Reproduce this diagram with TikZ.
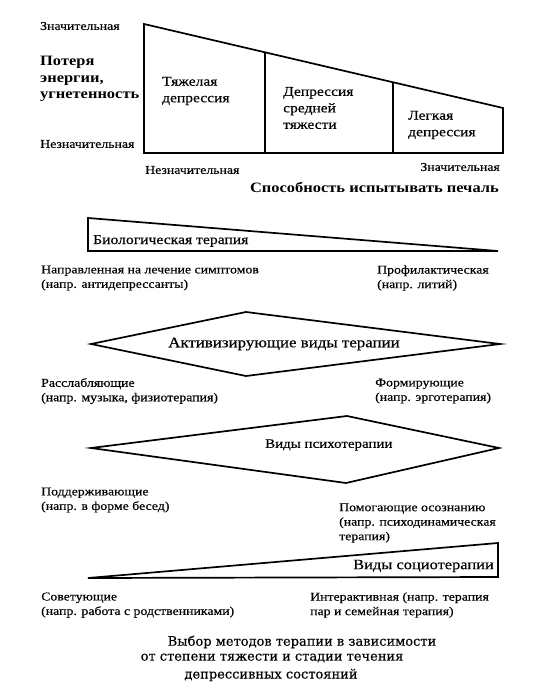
\documentclass[tikz,border=0pt]{standalone}
\usepackage{fontspec}
\setmainfont[FakeStretch=1.15,UprightFeatures={FakeBold=0.4}]{Liberation Serif}
\newfontfamily\capfont[FakeBold=0.3]{DejaVu Serif}
\usetikzlibrary{calc}
\tikzset{
  shp/.style={line width=1.7pt, line join=miter},
  lbl/.style={inner sep=0pt, anchor=west, align=left, font=\fontsize{12}{14.5}\selectfont},
  lblr/.style={lbl, anchor=east, align=right},
  inlbl/.style={inner sep=0pt, anchor=west, align=left, font=\fontsize{13.5}{16.5}\selectfont},
  boldlbl/.style={inner sep=0pt, anchor=west, align=left, font=\fontsize{14.3}{16.5}\selectfont\bfseries},
  caplbl/.style={inner sep=0pt, anchor=center, font=\capfont\fontsize{13}{16}\selectfont}
}
\begin{document}
\begin{tikzpicture}[x=1pt,y=-1pt]
\useasboundingbox (0,0) rectangle (552,690);
% ---------- top chart ----------
\coordinate (A) at (144,24);
\coordinate (B) at (144,153);
\coordinate (C) at (503,153);
\coordinate (D) at (503,108);
\draw[shp] (A) -- (B) -- (C) -- (D) -- cycle;
\coordinate (p1) at ($(A)!0.337!(D)$);
\coordinate (p2) at ($(A)!0.694!(D)$);
\draw[shp] (p1) -- (p1 |- B);
\draw[shp] (p2) -- (p2 |- B);
\node[lbl] (zn1) at (40,26) {Значительная};
\node[boldlbl] (loss) at (40,79) {Потеря\\энергии,\\угнетенность};
\node[lbl] (nzn1) at (40,144) {Незначительная};
\node[inlbl] (severe) at (162,91) {Тяжелая\\депрессия};
\node[inlbl] (medium) at (283,108) {Депрессия\\средней\\тяжести};
\node[inlbl] (light) at (408,125) {Легкая\\депрессия};
\node[lbl] (nzn2) at (145,170) {Незначительная};
\node[lblr] (zn2) at (500,167) {Значительная};
\node[boldlbl, anchor=east] (sad) at (499,187) {Способность испытывать печаль};
% ---------- biological therapy ----------
\coordinate (b1) at (88,218);
\coordinate (b2) at (498,251);
\coordinate (b3) at (88,251);
\draw[shp] (b1) -- (b2) -- (b3) -- cycle;
\node[lbl, font=\fontsize{13.6}{16}\selectfont] (bio) at (93,241) {Биологическая терапия};
\node[lbl] (bioL) at (41,278) {Направленная на лечение симптомов\\(напр. антидепрессанты)};
\node[lbl] (bioR) at (377,278) {Профилактическая\\(напр. литий)};
% ---------- activating therapy ----------
\coordinate (a1) at (246,312);
\coordinate (a2) at (500,344);
\coordinate (a3) at (246,376);
\coordinate (a4) at (91,344);
\draw[shp] (a1) -- (a2) -- (a3) -- (a4) -- cycle;
\node[inner sep=0pt, font=\fontsize{14.7}{16}\selectfont] (act) at (284,344) {Активизирующие виды терапии};
\node[lbl] (actL) at (41,391) {Расслабляющие\\(напр. музыка, физиотерапия)};
\node[lbl] (actR) at (375,391) {Формирующие\\(напр. эрготерапия)};
% ---------- psychotherapy ----------
\coordinate (s1) at (347,416);
\coordinate (s2) at (499,448);
\coordinate (s3) at (346,483);
\coordinate (s4) at (91,448);
\draw[shp] (s1) -- (s2) -- (s3) -- (s4) -- cycle;
\node[lbl, font=\fontsize{13}{16}\selectfont] (psy) at (265,445) {Виды психотерапии};
\node[lbl] (psyL) at (41,500) {Поддерживающие\\(напр. в форме бесед)};
\node[lbl] (psyR) at (339,523) {Помогающие осознанию\\(напр. психодинамическая\\терапия)};
% ---------- sociotherapy ----------
\coordinate (c1) at (88,578);
\coordinate (c2) at (498,543);
\coordinate (c3) at (498,577);
\draw[shp] (c1) -- (c2) -- (c3) -- cycle;
\node[lblr, font=\fontsize{14.3}{16}\selectfont] (soc) at (494,566) {Виды социотерапии};
\node[lbl] (socL) at (41,605) {Советующие\\(напр. работа с родственниками)};
\node[lbl] (socR) at (310,605) {Интерактивная (напр. терапия\\пар и семейная терапия)};
% ---------- caption ----------
\node[caplbl] (cap1) at (302,642) {Выбор методов терапии в зависимости};
\node[caplbl] (cap2) at (272,658) {от степени тяжести и стадии течения};
\node[caplbl] (cap3) at (271,675) {депрессивных состояний};
\end{tikzpicture}
\end{document}
